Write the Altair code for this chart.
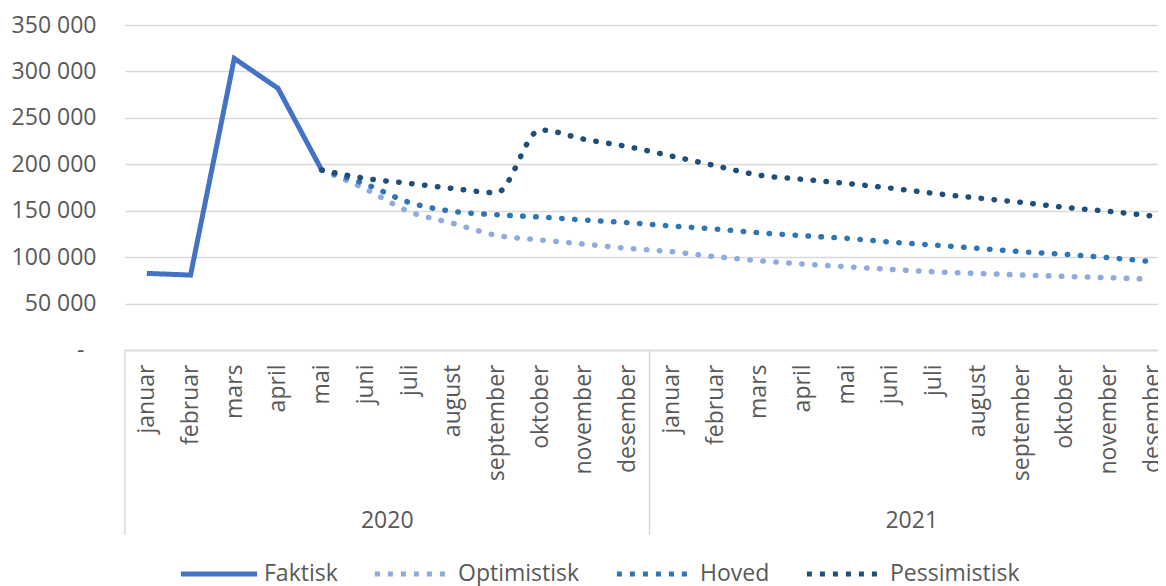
import altair as alt
import pandas as pd

months = ["januar", "februar", "mars", "april", "mai", "juni", "juli",
          "august", "september", "oktober", "november", "desember"]
years = ["2020", "2021"]
series = ["Faktisk", "Optimistisk", "Hoved", "Pessimistisk"]
colors = ["#4472C4", "#8FAADC", "#2E75B6", "#1F4E79"]

# Actual: januar - mai 2020
faktisk = [82500, 80700, 314000, 281800, 193800]
# Scenarios: mai 2020 - desember 2021
optimistisk = [193800, 173400, 149000, 136400, 123500, 118500, 114100, 109500,
               105900, 100500, 96200, 92600, 89700, 86900, 84300, 82500,
               80800, 79300, 77900, 76100]
hoved = [193800, 178700, 159000, 149300, 145700, 143200, 140000, 137100,
         133500, 130300, 126300, 123100, 120300, 116300, 113000, 109500,
         105900, 103000, 99400, 95100]
pessimistisk = [193800, 184800, 179400, 174000, 169400, 237000, 227000, 219000,
                208900, 198500, 188400, 183800, 179400, 174400, 168700, 163700,
                159000, 153600, 149300, 144300]
y_ticks = [0, 50000, 100000, 150000, 200000, 250000, 300000, 350000]

n_months = len(months) * len(years)

fact_rows = [{"t": i + 0.5, "value": v, "series": "Faktisk"} for i, v in enumerate(faktisk)]
start = len(faktisk) - 1
fc_rows = []
for name, vals in [("Optimistisk", optimistisk), ("Hoved", hoved), ("Pessimistisk", pessimistisk)]:
    for j, v in enumerate(vals):
        fc_rows.append({"t": start + j + 0.5, "value": v, "series": name})
df_fact = pd.DataFrame(fact_rows)
df_fc = pd.DataFrame(fc_rows)
df_sep = pd.DataFrame({"t": [i * len(months) for i in range(len(years) + 1)]})
df_year = pd.DataFrame({"t": [i * len(months) + len(months) / 2 for i in range(len(years))],
                        "year": years})

GRAY = "#d9d9d9"
TXT = "#595959"
FONT = "Open Sans"
FS = 23

PLOT_W = 1033          # visible part of the plot (the reference is cut at the right)
FULL_W = 1049          # width the 24 months would need
x_max = n_months * PLOT_W / FULL_W

month_expr = "[" + ",".join("'" + m + "'" for m in months) + "][floor(datum.value) % 12]"
y_expr = "datum.value == 0 ? '-' : replace(format(datum.value, ','), ',', ' ')"

x_scale = alt.Scale(domain=[0, x_max], nice=False, zero=False)
y_scale = alt.Scale(domain=[0, 350000], nice=False)

x_axis = alt.Axis(values=[i + 0.5 for i in range(n_months)], labelExpr=month_expr,
                  labelAngle=270, ticks=False, grid=False, domainColor=GRAY,
                  domainWidth=1.5, labelPadding=14, labelFontSize=FS,
                  labelColor=TXT, labelFont=FONT, title=None, labelOverlap=False,
                  labelFlush=False, labelBound=False)
y_axis = alt.Axis(values=y_ticks, labelExpr=y_expr, domain=False, ticks=False,
                  gridColor=GRAY, gridWidth=1.5,
                  labelPadding={"condition": {"test": "datum.value == 0", "value": 41},
                                "value": 29},
                  labelFontSize=FS, labelColor=TXT, labelFont=FONT, title=None)

legend = alt.Legend(orient="none", legendX=53, legendY=508, direction="horizontal",
                    symbolType="stroke", symbolSize=5800, symbolStrokeWidth=5,
                    labelFontSize=FS, labelFont=FONT, labelColor=TXT,
                    columnPadding=26, labelOffset=4, title=None)

color = alt.Color("series:N", scale=alt.Scale(domain=series, range=colors), legend=legend)
dash = alt.StrokeDash("series:N",
                      scale=alt.Scale(domain=series,
                                      range=[[1, 0], [5, 8], [5, 8], [5, 8]]),
                      legend=legend)

X = alt.X("t:Q", scale=x_scale, axis=x_axis)
Y = alt.Y("value:Q", scale=y_scale, axis=y_axis)

fact_line = alt.Chart(df_fact).mark_line(strokeWidth=5, interpolate="linear").encode(
    x=X, y=Y, color=color, strokeDash=dash,
)

fc_line = alt.Chart(df_fc).mark_line(strokeWidth=5.5, strokeDash=[0.5, 12.5],
                                     strokeCap="round", interpolate="monotone").encode(
    x=X, y=Y, color=color,
)

sep = alt.Chart(df_sep).mark_rule(color=GRAY, strokeWidth=1.5).encode(
    x=X,
    y=alt.value(325),
    y2=alt.value(510),
)

year_text = alt.Chart(df_year).mark_text(font=FONT, fontSize=FS, color=TXT,
                                         baseline="middle", align="center").encode(
    x=X,
    y=alt.value(496),
    text="year:N",
)

chart = alt.layer(sep, fact_line, fc_line, year_text).properties(
    width=PLOT_W, height=325,
    autosize=alt.AutoSizeParams(type="none"),
    padding={"left": 117, "top": 17, "right": 0, "bottom": 236},
    background="white",
).configure_view(stroke=None)

chart.save("out.html", embed_options={"renderer": "svg", "actions": False})
